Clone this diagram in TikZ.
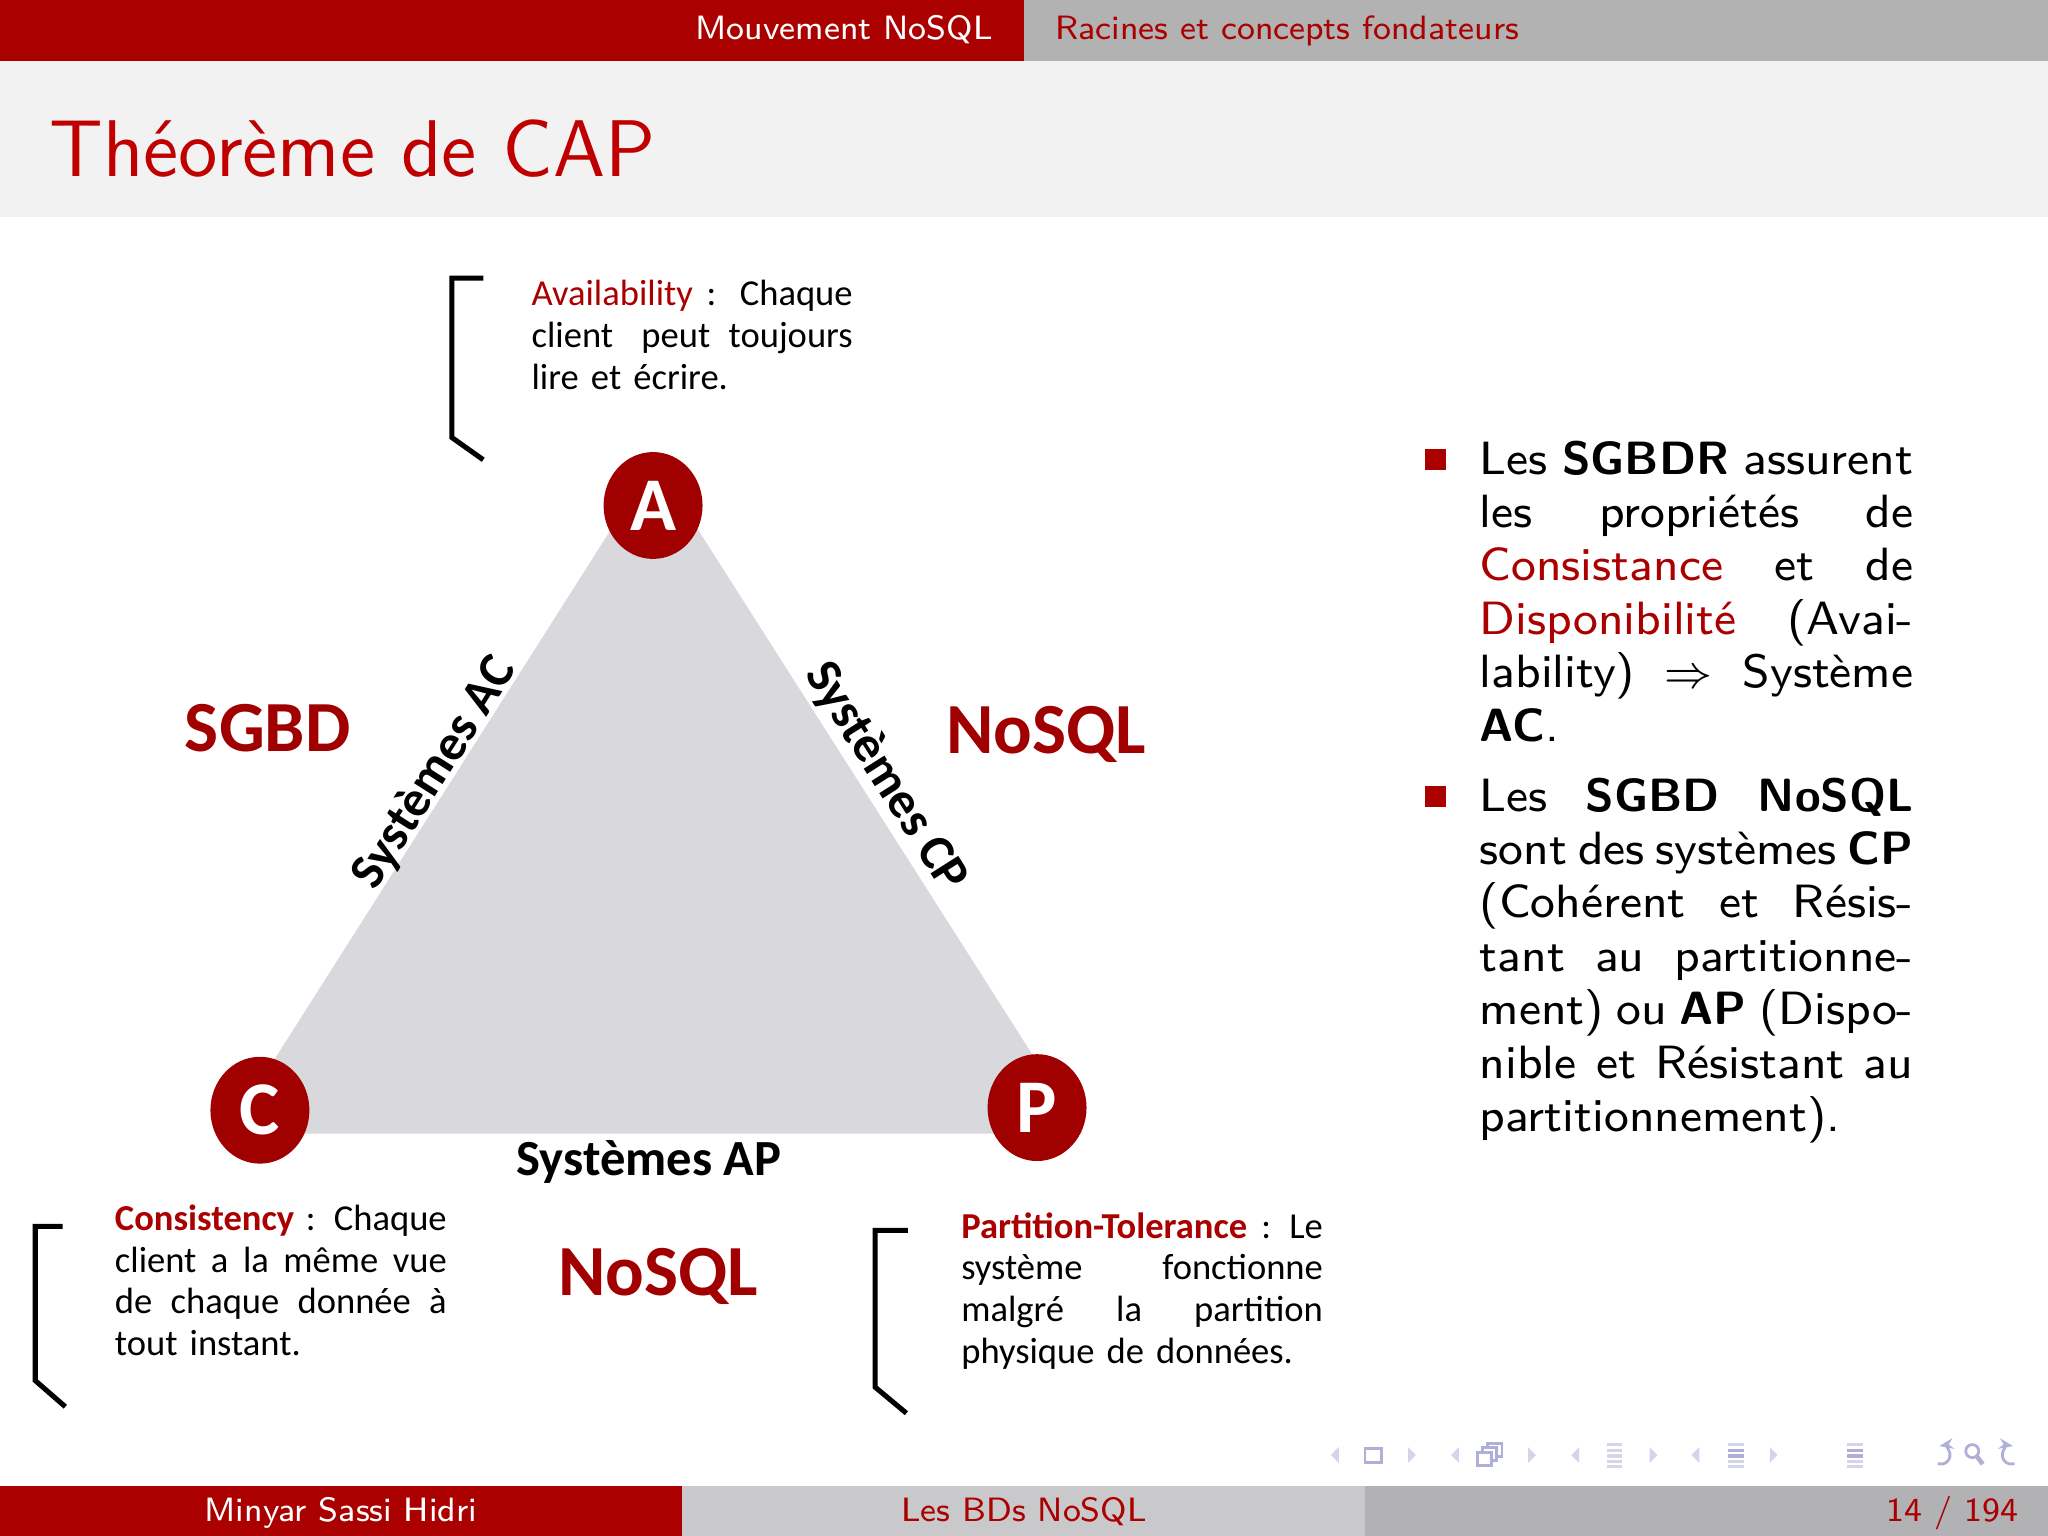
\documentclass[tikz,border=0pt]{standalone}
\usepackage{fontspec}
\usetikzlibrary{shapes.geometric,arrows.meta}

\newfontfamily\calib{Carlito}
\definecolor{barred}{RGB}{170,0,0}
\definecolor{titlered}{RGB}{192,0,0}
\definecolor{capred}{RGB}{160,0,0}
\definecolor{headgray}{RGB}{178,178,178}
\definecolor{titlebg}{RGB}{242,242,243}
\definecolor{footgray}{RGB}{201,201,203}
\definecolor{footdark}{RGB}{178,178,180}
\definecolor{trigray}{RGB}{217,216,220}
\definecolor{navblue}{RGB}{175,175,215}
\definecolor{navlight}{RGB}{212,212,235}

% one justified line of a paragraph, stretched to width #1
\newcommand\jl[2]{\makebox[#1][s]{\spaceskip=\fontdimen2\font plus 1fil minus 0.15em\relax #2}}
\newcommand\gap{\hspace{0pt plus 1fil}}
\newcommand\bodyfont{\sffamily\fontsize{8.3}{9.5}\selectfont}
\newcommand\barfont{\sffamily\fontsize{6.0}{7.2}\selectfont}
\newcommand\notefont{\calib\fontsize{6.5}{7.43}\selectfont}

\begin{document}
\begin{tikzpicture}[x=0.0081633cm,y=-0.0081633cm,>=Stealth,
  every node/.style={inner sep=0pt,outer sep=0pt},
  vertex/.style={ellipse,fill=capred,text=white,minimum width=17.6pt,minimum height=19pt,
    font=\calib\bfseries\fontsize{13.5}{16}\selectfont},
  sidelabel/.style={font=\calib\bfseries\fontsize{9}{11}\selectfont},
  family/.style={anchor=base,text=capred,font=\calib\bfseries\fontsize{12.8}{15}\selectfont},
  note/.style={anchor=base west,align=left,font=\notefont},
  bracket/.style={line width=0.9pt},
  bullet/.style={fill=barred,minimum size=3.7pt},
  bodytext/.style={anchor=base west,text width=77.1pt,align=left,font=\bodyfont},
  navsym/.style={draw=navblue,line width=0.5pt}]
  \useasboundingbox (0,0) rectangle (1568,1176);

  % header and title band
  \fill[barred] (0,0) rectangle (784,47);
  \fill[headgray] (784,0) rectangle (1568,47);
  \fill[titlebg] (0,47) rectangle (1568,166);
  \node[anchor=base east,text=white,font=\barfont] (sec) at (760,30) {Mouvement NoSQL};
  \node[anchor=base west,text=barred,font=\barfont] (subsec) at (808,30) {Racines et concepts fondateurs};
  \node[anchor=base west,text=titlered,font=\sffamily\fontsize{14.3}{17}\selectfont] (title) at (38,135) {Théorème de CAP};

  % CAP triangle
  \coordinate (tA) at (501,353);
  \coordinate (tC) at (174,868);
  \coordinate (tP) at (829,868);
  \fill[trigray] (tA) -- (tC) -- (tP) -- cycle;
  \node[vertex] (A) at (500,387) {A};
  \node[vertex] (C) at (199,850) {C};
  \node[vertex] (P) at (794,848) {P};
  \node[sidelabel,rotate=57.6] (ac) at (333,592) {Systèmes AC};
  \node[sidelabel,rotate=-57.6] (cp) at (678,595) {Systèmes CP};
  \node[sidelabel,anchor=base] (ap) at (497,900) {Systèmes AP};
  \node[family] (sgbd) at (205,575) {SGBD};
  \node[family] (nosqlr) at (801,577) {NoSQL};
  \node[family] (nosqlb) at (504,992) {NoSQL};

  % brackets and notes
  \draw[bracket] (370,213) -- (346,213) -- (346,335) -- (370,352);
  \draw[bracket] (48,939) -- (27,939) -- (27,1057) -- (50,1077);
  \draw[bracket] (695,942) -- (670,942) -- (670,1062) -- (694,1082);
  \node[note,text width=57.1pt] (avail) at (407,234)
    {\jl{57.1pt}{\textcolor{barred}{Availability} :\gap{} Chaque}\\
     \jl{57.1pt}{client\gap{} peut toujours}\\
     lire et écrire.};
  \node[note,text width=59pt] (consist) at (88,942)
    {\jl{59pt}{\textcolor{barred}{\bfseries Consistency} : Chaque}\\
     \jl{59pt}{client a la même vue}\\
     \jl{59pt}{de chaque donnée à}\\
     tout instant.};
  \node[note,text width=64.3pt] (partit) at (736,948)
    {\jl{64.3pt}{\textcolor{barred}{\bfseries Partition-Tolerance} : Le}\\
     \jl{64.3pt}{système fonctionne}\\
     \jl{64.3pt}{malgré la partition}\\
     physique de données.};

  % bullet list
  \node[bullet] (b1) at (1099,352) {};
  \node[bullet] (b2) at (1099,610) {};
  \node[bodytext] (item1) at (1133,363)
    {\jl{77.1pt}{Les \textbf{SGBDR} assurent}\\
     \jl{77.1pt}{les propriétés de}\\
     \jl{77.1pt}{\textcolor{barred}{Consistance} et de}\\
     \jl{77.1pt}{\textcolor{barred}{Disponibilité} (Avai-}\\
     \jl{77.1pt}{lability) $\Rightarrow$ Système}\\
     \textbf{AC}.};
  \node[bodytext] (item2) at (1133,621)
    {\jl{77.1pt}{Les \textbf{SGBD} \textbf{NoSQL}}\\
     \jl{77.1pt}{sont des systèmes \textbf{CP}}\\
     \jl{77.1pt}{(Cohérent et Résis-}\\
     \jl{77.1pt}{tant au partitionne-}\\
     \jl{77.1pt}{ment) ou \textbf{AP} (Dispo-}\\
     \jl{77.1pt}{nible et Résistant au}\\
     partitionnement).};

  % navigation symbols
  \foreach \x in {1022,1114,1206,1298}
    \fill[navlight] (\x+3,1108) -- (\x-3,1114) -- (\x+3,1120) -- cycle;
  \foreach \x in {1081,1173,1266,1358}
    \fill[navlight] (\x-3,1108) -- (\x+3,1114) -- (\x-3,1120) -- cycle;
  \draw[navsym] (1045,1109) rectangle (1058,1120);
  \filldraw[navsym,fill=white] (1139,1105) rectangle (1150,1115);
  \filldraw[navsym,fill=white] (1135,1108) rectangle (1146,1118);
  \filldraw[navsym,fill=white] (1131,1112) rectangle (1142,1122);
  \foreach \x/\c in {1236/navlight,1329/navblue,1420/navblue} {
    \fill[navlight] (\x-6,1105) rectangle (\x+6,1107);
    \fill[\c] (\x-6,1109) rectangle (\x+6,1111.5);
    \fill[\c] (\x-6,1113.5) rectangle (\x+6,1116);
    \fill[navlight] (\x-6,1118) rectangle (\x+6,1120);
    \fill[navlight] (\x-6,1122) rectangle (\x+6,1124);
  }
  \draw[navsym,{Stealth[length=2.5pt]}-] (1484.8,1107.1) arc[start angle=-100,end angle=110,radius=7];
  \draw[navsym] (1510,1111) circle (5);
  \draw[navsym,line width=0.8pt] (1513.5,1115) -- (1518,1121);
  \draw[navsym,{Stealth[length=2.5pt]}-] (1541.2,1107.1) arc[start angle=-80,end angle=-290,radius=7];

  % footer
  \fill[barred] (0,1138) rectangle (522,1176);
  \fill[footgray] (522,1138) rectangle (1045,1176);
  \fill[footdark] (1045,1138) rectangle (1568,1176);
  \node[anchor=base,text=white,font=\barfont] (author) at (261,1165) {Minyar Sassi Hidri};
  \node[anchor=base,text=barred,font=\barfont] (short) at (784,1165) {Les BDs NoSQL};
  \node[anchor=base east,text=barred,font=\barfont] (page) at (1545,1165) {14 / 194};
\end{tikzpicture}
\end{document}
